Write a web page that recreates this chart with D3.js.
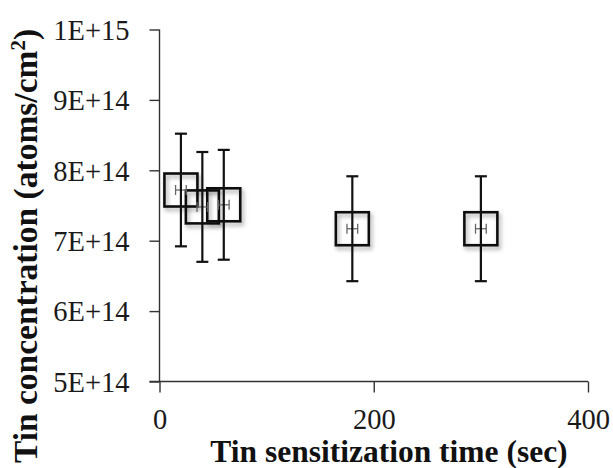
<!DOCTYPE html>
<html>
<head>
<meta charset="utf-8">
<script src="https://cdn.jsdelivr.net/npm/d3@7"></script>
<style>
  html, body { margin: 0; padding: 0; background: #fff; }
  svg { display: block; }
</style>
</head>
<body>
<svg id="chart" width="613" height="468"></svg>
<script>
// Data
const times = [20, 40, 60, 180, 300];                 // sec
const concentration = [7.72e14, 7.48e14, 7.51e14, 7.17e14, 7.17e14]; // atoms/cm^2
const yError = [0.80e14, 0.78e14, 0.78e14, 0.745e14, 0.745e14];
const xError = [5, 5, 5, 5, 5];
const xTicks = [0, 200, 400];
const yTicks = [5e14, 6e14, 7e14, 8e14, 9e14, 1e15];
const yTickLabels = ["5E+14", "6E+14", "7E+14", "8E+14", "9E+14", "1E+15"];

const svg = d3.select("#chart");
const font = "'Liberation Serif', 'Times New Roman', serif";

const defs = svg.append("defs");
const f = defs.append("filter").attr("id", "shadow")
  .attr("x", "-30%").attr("y", "-30%").attr("width", "170%").attr("height", "170%");
f.append("feDropShadow").attr("dx", 2).attr("dy", 3).attr("stdDeviation", 2)
  .attr("flood-color", "#000").attr("flood-opacity", 0.35);

const x = d3.scaleLinear().domain([0, 400]).range([159.5, 588]);
const y = d3.scaleLinear().domain([5e14, 1e15]).range([381.5, 29.5]);

// Y axis
const yAxis = d3.axisLeft(y).tickValues(yTicks)
  .tickFormat((d, i) => yTickLabels[i]).tickSize(10).tickPadding(20);
const gy = svg.append("g").attr("transform", `translate(${x(0)},0)`).call(yAxis);
gy.select(".domain").attr("d", `M0,${y(1e15)}V${y(5e14)}`);
gy.selectAll("path, line").attr("stroke", "#333").attr("stroke-width", 1.4);
gy.selectAll("text").attr("font-family", font).attr("font-size", 28.5).attr("fill", "#1a1a1a")
  .attr("dy", "0.34em");

// X axis
const xAxis = d3.axisBottom(x).tickValues(xTicks).tickFormat(d3.format("d"))
  .tickSize(11).tickPadding(16);
const gx = svg.append("g").attr("transform", `translate(0,${y(5e14)})`).call(xAxis);
gx.select(".domain").attr("d", `M${x(0) - 10},0H${x(400)}`);
gx.selectAll("path, line").attr("stroke", "#333").attr("stroke-width", 1.4);
gx.selectAll("text").attr("font-family", font).attr("font-size", 28.5).attr("fill", "#1a1a1a");

// Axis titles
svg.append("text")
  .attr("x", 389).attr("y", 462)
  .attr("text-anchor", "middle")
  .attr("font-family", font).attr("font-weight", "bold").attr("font-size", 31.5)
  .attr("fill", "#111")
  .text("Tin sensitization time (sec)");

const yl = svg.append("text")
  .attr("transform", "translate(37,246) rotate(-90)")
  .attr("text-anchor", "middle")
  .attr("font-family", font).attr("font-weight", "bold").attr("font-size", 33.5)
  .attr("fill", "#111");
yl.append("tspan").text("Tin concentration (atoms/cm");
yl.append("tspan").attr("baseline-shift", "super").attr("font-size", 21).text("2");
yl.append("tspan").text(")");

const data = times.map((t, i) => ({ t, c: concentration[i], e: yError[i], xe: xError[i] }));

// Markers (hollow squares with shadow)
const half = 16.5;
svg.append("g").selectAll("rect").data(data).join("rect")
  .attr("x", d => x(d.t) - half).attr("y", d => y(d.c) - half)
  .attr("width", half * 2).attr("height", half * 2)
  .attr("fill", "none").attr("stroke", "#111").attr("stroke-width", 2.6)
  .attr("filter", "url(#shadow)");

// Horizontal (x) error bars - small grey H
const hx = svg.append("g").attr("stroke", "#666").attr("stroke-width", 1.3);
data.forEach(d => {
  const cy = y(d.c);
  hx.append("line").attr("x1", x(d.t - d.xe)).attr("x2", x(d.t + d.xe)).attr("y1", cy).attr("y2", cy);
  hx.append("line").attr("x1", x(d.t - d.xe)).attr("x2", x(d.t - d.xe)).attr("y1", cy - 5).attr("y2", cy + 5);
  hx.append("line").attr("x1", x(d.t + d.xe)).attr("x2", x(d.t + d.xe)).attr("y1", cy - 5).attr("y2", cy + 5);
});

// Vertical error bars
const eb = svg.append("g").attr("stroke", "#111").attr("stroke-width", 2.2);
data.forEach(d => {
  const cx = x(d.t);
  const top = y(d.c + d.e), bot = y(d.c - d.e);
  eb.append("line").attr("x1", cx).attr("x2", cx).attr("y1", top).attr("y2", bot);
  eb.append("line").attr("x1", cx - 6).attr("x2", cx + 6).attr("y1", top).attr("y2", top);
  eb.append("line").attr("x1", cx - 6).attr("x2", cx + 6).attr("y1", bot).attr("y2", bot);
});
</script>
</body>
</html>
